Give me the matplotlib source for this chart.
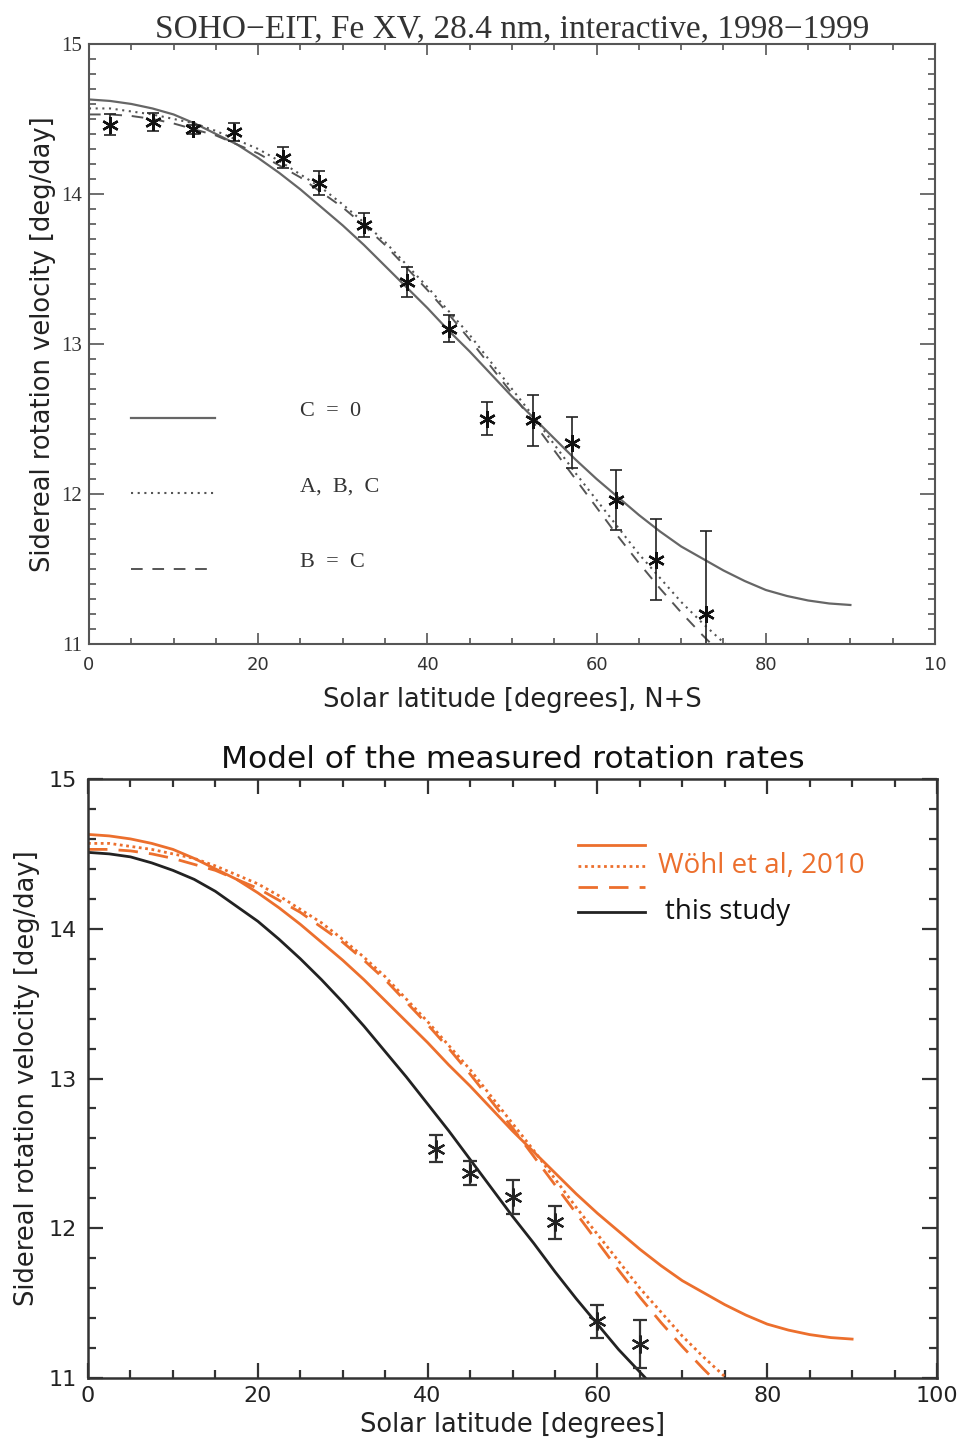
import matplotlib
matplotlib.use("Agg")
import matplotlib.pyplot as plt
from matplotlib.ticker import MultipleLocator

# latitude grid of the rotation profiles (2.5 deg steps)
lat = [i * 2.5 for i in range(37)]

# Woehl et al. 2010 profiles (C = 0 / A, B, C / B = C)
woehl_c0 = [14.63, 14.62, 14.60, 14.57, 14.53, 14.47, 14.40, 14.33, 14.24, 14.14,
            14.03, 13.91, 13.79, 13.66, 13.52, 13.38, 13.24, 13.09, 12.95, 12.80,
            12.65, 12.51, 12.37, 12.23, 12.10, 11.98, 11.86, 11.75, 11.65, 11.57,
            11.49, 11.42, 11.36, 11.32, 11.29, 11.27, 11.26]
woehl_abc = [14.57, 14.57, 14.55, 14.53, 14.50, 14.47, 14.42, 14.36, 14.30, 14.22,
             14.13, 14.04, 13.93, 13.81, 13.68, 13.53, 13.38, 13.22, 13.06, 12.88,
             12.70, 12.52, 12.33, 12.14, 11.96, 11.78, 11.60, 11.44, 11.28, 11.14,
             11.01, 10.90, 10.80]
woehl_bc = [14.53, 14.53, 14.52, 14.50, 14.47, 14.43, 14.39, 14.33, 14.27, 14.19,
            14.11, 14.01, 13.91, 13.79, 13.66, 13.51, 13.36, 13.20, 13.03, 12.85,
            12.67, 12.48, 12.29, 12.10, 11.91, 11.72, 11.54, 11.37, 11.21, 11.06,
            10.92, 10.81, 10.71]

# profile fitted in this study
this_study = [14.51, 14.50, 14.48, 14.44, 14.39, 14.33, 14.25, 14.15, 14.05, 13.93,
              13.80, 13.66, 13.51, 13.35, 13.18, 13.01, 12.83, 12.65, 12.46, 12.27,
              12.08, 11.90, 11.71, 11.53, 11.36, 11.19, 11.04, 10.89, 10.75]

# EIT 28.4 nm tracer rates, 1998-1999
eit_lat = [2.5, 7.6, 12.3, 17.1, 22.9, 27.2, 32.5, 37.6, 42.6, 47.1, 52.5, 57.1, 62.3, 67.0, 72.9]
eit_rate = [14.46, 14.48, 14.43, 14.41, 14.24, 14.07, 13.79, 13.41, 13.10, 12.50,
            12.49, 12.34, 11.96, 11.56, 11.20]
eit_err = [0.07, 0.06, 0.03, 0.06, 0.07, 0.08, 0.08, 0.10, 0.09, 0.11,
           0.17, 0.17, 0.20, 0.27, 0.55]

# measured rates, this study
new_lat = [41, 45, 50, 55, 60, 65]
new_rate = [12.53, 12.37, 12.21, 12.04, 11.38, 11.23]
new_err = [0.09, 0.08, 0.115, 0.11, 0.11, 0.16]

x_ticks = [0, 20, 40, 60, 80, 100]
x_ticklabels_top = ["0", "20", "40", "60", "80", "10"]
y_ticks = [11, 12, 13, 14, 15]

gray = "#555555"
orange = "#EC6F2D"
star = (6, 2, 0)

fig = plt.figure(figsize=(9.65, 14.41), dpi=100)

# ---------- upper panel ----------
ax1 = fig.add_axes([0.0922, 0.5531, 0.8767, 0.4164])
ax1.plot(lat, woehl_c0, color="#666666", lw=1.6, ls="-")
ax1.plot(lat[:len(woehl_abc)], woehl_abc, color=gray, lw=1.5, ls=(0, (1, 2.2)))
ax1.plot(lat[:len(woehl_bc)], woehl_bc, color=gray, lw=1.4, ls=(0, (6, 5)))
ax1.errorbar(eit_lat, eit_rate, yerr=eit_err, fmt="none", ecolor="#222222",
             elinewidth=1.2, capsize=4, capthick=1.2)
ax1.plot(eit_lat, eit_rate, ls="none", marker=star, ms=12, mew=1.7, color="#111111")

ax1.set_xlim(0, 100)
ax1.set_ylim(11, 15)
ax1.set_xticks(x_ticks)
ax1.set_xticklabels(x_ticklabels_top, fontsize=13, color="#333333")
ax1.set_yticks(y_ticks)
ax1.set_yticklabels([str(v) for v in y_ticks], family="Liberation Serif", fontsize=15, color="#333333")
ax1.xaxis.set_minor_locator(MultipleLocator(5))
ax1.yaxis.set_minor_locator(MultipleLocator(0.1))
ax1.tick_params(which="both", direction="in", top=True, right=True, color=gray, width=1.2)
ax1.tick_params(axis="x", which="major", length=8, pad=9)
ax1.tick_params(axis="x", which="minor", length=4)
ax1.tick_params(axis="y", which="major", length=11, pad=5)
ax1.tick_params(axis="y", which="minor", length=5)
for s in ax1.spines.values():
    s.set_color(gray)
    s.set_linewidth(1.5)

ax1.set_title("SOHO\u2212EIT, Fe XV, 28.4 nm, interactive, 1998\u22121999",
              family="Liberation Serif", fontsize=24, color="#333333", pad=4)
ax1.set_xlabel("Solar latitude [degrees], N+S", fontsize=18.5, color="#222222", labelpad=9)
ax1.set_ylabel("Sidereal rotation velocity [deg/day]", fontsize=18.5, color="#222222", labelpad=4)

# IDL-style key: line samples on the left, labels further right
key_y = [0.377, 0.252, 0.125]
key_styles = [dict(ls="-", lw=1.6, color="#666666"), dict(ls=(0, (1, 2.2)), lw=1.5, color=gray),
              dict(ls=(0, (6, 5)), lw=1.4, color=gray)]
key_text = ["C  =  0", "A,  B,  C", "B  =  C"]
for yk, st, tx in zip(key_y, key_styles, key_text):
    ax1.plot([0.0496, 0.149], [yk, yk], transform=ax1.transAxes, **st)
    ax1.text(0.249, yk + 0.01, tx, transform=ax1.transAxes, va="center", ha="left",
             family="Liberation Serif", fontsize=16, color="#333333")

# ---------- lower panel ----------
ax2 = fig.add_axes([0.0912, 0.0437, 0.8798, 0.4157])
ax2.plot(lat, woehl_c0, color=orange, lw=2.0, ls="-")
ax2.plot(lat[:len(woehl_abc)], woehl_abc, color=orange, lw=2.0, ls=(0, (1, 1.3)))
ax2.plot(lat[:len(woehl_bc)], woehl_bc, color=orange, lw=2.0, ls=(0, (7, 4)))
ax2.plot(lat[:len(this_study)], this_study, color="#222222", lw=2.0)
ax2.errorbar(new_lat, new_rate, yerr=new_err, fmt="none", ecolor="#333333",
             elinewidth=1.6, capsize=5, capthick=1.6)
ax2.plot(new_lat, new_rate, ls="none", marker=star, ms=13, mew=1.6, color="#222222")

ax2.set_xlim(0, 100)
ax2.set_ylim(11, 15)
ax2.set_xticks(x_ticks)
ax2.set_yticks(y_ticks)
ax2.tick_params(labelsize=16, labelcolor="#222222")
ax2.xaxis.set_minor_locator(MultipleLocator(5))
ax2.yaxis.set_minor_locator(MultipleLocator(0.2))
ax2.tick_params(which="both", direction="in", top=True, right=True, color="#333333", width=1.6)
ax2.tick_params(which="major", length=11)
ax2.tick_params(which="minor", length=6)
ax2.tick_params(axis="x", pad=6)
ax2.tick_params(axis="y", pad=8)
for s in ax2.spines.values():
    s.set_color("#333333")
    s.set_linewidth(1.8)

ax2.set_title("Model of the measured rotation rates", fontsize=22.5, color="#111111", pad=8)
ax2.set_xlabel("Solar latitude [degrees]", fontsize=18.5, color="#222222", labelpad=4)
ax2.set_ylabel("Sidereal rotation velocity [deg/day]", fontsize=18.5, color="#222222", labelpad=6)

key2 = [(0.890, orange, "-"), (0.855, orange, (0, (1, 1.3))), (0.820, orange, (0, (7, 4))),
        (0.778, "#222222", "-")]
for yk, col, ls in key2:
    ax2.plot([0.577, 0.656], [yk, yk], color=col, ls=ls, lw=2.0, transform=ax2.transAxes)
ax2.text(0.671, 0.855, "W\u00f6hl et al, 2010", transform=ax2.transAxes, va="center", ha="left",
         family="Open Sans", fontsize=20, color=orange)
ax2.text(0.680, 0.778, "this study", transform=ax2.transAxes, va="center", ha="left",
         family="Open Sans", fontsize=20, color="#111111")

fig.savefig("out.png", dpi=100)
